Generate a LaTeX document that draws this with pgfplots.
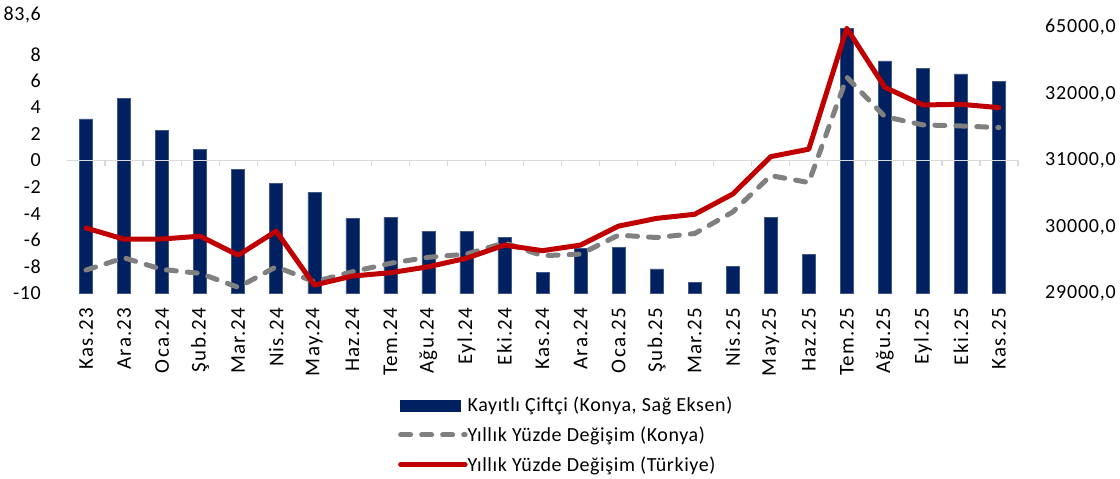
\documentclass[border=0pt]{standalone}
\usepackage{fontspec}
\setmainfont{Carlito}
\usepackage{pgfplots}
\pgfplotsset{compat=1.18}
\definecolor{barblue}{HTML}{002060}
\definecolor{redl}{HTML}{C00000}
\definecolor{grayl}{HTML}{808080}
\definecolor{gridc}{HTML}{D9D9D9}
\pgfplotsset{linelegend/.style={legend image code/.code={\draw[##1] (2.5pt,0pt) -- (67pt,0pt);}}}
\begin{document}
\begin{tikzpicture}[font=\fontsize{20}{24}\selectfont]
\begin{axis}[name=bars, at={(0,0)}, anchor=south west, scale only axis,
  width=951pt, height=278.9pt,
  xmin=-0.5, xmax=24.5, ymin=29000, ymax=33194,
  axis y line*=right, axis x line*=bottom, axis line style={draw=none},
  ybar, bar width=13pt,
  scaled y ticks=false,
  xtick={0,...,24},
  xticklabels={Kas.23,Ara.23,Oca.24,Şub.24,Mar.24,Nis.24,May.24,Haz.24,Tem.24,Ağu.24,Eyl.24,Eki.24,Kas.24,Ara.24,Oca.25,Şub.25,Mar.25,Nis.25,May.25,Haz.25,Tem.25,Ağu.25,Eyl.25,Eki.25,Kas.25},
  xticklabel style={rotate=90, anchor=east, inner sep=0pt, font=\fontsize{21}{25}\selectfont\addfontfeatures{LetterSpace=6}},
  xticklabel shift=14pt,
  major tick length=0pt,
  ytick={29000,30000,31000,32000,33004},
  yticklabels={{29000,0},{30000,0},{31000,0},{32000,0},{65000,0}},
  yticklabel style={inner sep=0pt, anchor=west, font=\fontsize{20}{24}\selectfont\addfontfeatures{LetterSpace=4}},
  yticklabel shift=27pt,
  /pgf/number format/assume math mode=true,
]
\addplot[fill=barblue, draw=barblue!75, line width=0.5pt, bar shift=0pt] coordinates {
(0,31624) (1,31926) (2,31448) (3,31167) (4,30865) (5,30648) (6,30518) (7,30126)
(8,30146) (9,29935) (10,29935) (11,29844) (12,29317) (13,29680) (14,29689)
(15,29366) (16,29166) (17,29407) (18,30146) (19,29583) (20,32985) (21,32494)
(22,32383) (23,32298) (24,32192)};
\end{axis}
\begin{axis}[at={(0,0)}, anchor=south west, scale only axis,
  width=951pt, height=278.9pt,
  xmin=-0.5, xmax=24.5, ymin=-10, ymax=11,
  axis x line*=middle, axis y line*=left,
  y axis line style={draw=none},
  x axis line style={draw=gridc, line width=1.2pt},
  xtick={-0.5,0.5,...,24.5}, xticklabels={},
  x tick style={draw=gridc, line width=1.2pt},
  tick align=outside, major tick length=6pt,
  y tick style={draw=none},
  ytick={-10,-8,-6,-4,-2,0,2,4,6,8,10.95},
  yticklabels={-10,-8,-6,-4,-2,0,2,4,6,8,{83,6}},
  yticklabel style={inner sep=0pt, anchor=east, font=\fontsize{20}{24}\selectfont\addfontfeatures{LetterSpace=3}},
  yticklabel shift=20pt,
  /pgf/number format/assume math mode=true,
  legend cell align=left,
  legend style={at={(0.348,-0.372)}, anchor=north west, draw=none, fill=none,
    inner sep=0pt, row sep=13.5pt,
    font=\fontsize{20}{24}\selectfont\addfontfeatures{LetterSpace=3},
    nodes={inner sep=0pt, outer sep=0pt},
    /tikz/every even column/.append style={column sep=0pt}},
]
\addlegendimage{legend image code/.code={\fill[barblue] (2.5pt,-5.5pt) rectangle (62.5pt,5.5pt);}}
\addlegendentry{Kayıtlı Çiftçi (Konya, Sağ Eksen)}
\addplot[grayl, line width=5pt, line cap=round, line join=round, dash pattern=on 10pt off 11pt, linelegend] coordinates {
(0,-8.25) (1,-7.33) (2,-8.2) (3,-8.5) (4,-9.55) (5,-8.0) (6,-9.13) (7,-8.38)
(8,-7.74) (9,-7.29) (10,-7.05) (11,-6.2) (12,-7.17) (13,-7.05) (14,-5.62)
(15,-5.8) (16,-5.5) (17,-3.88) (18,-1.14) (19,-1.66) (20,6.27) (21,3.30)
(22,2.68) (23,2.60) (24,2.48)};
\addlegendentry{Yıllık Yüzde Değişim (Konya)}
\addplot[redl, line width=5pt, line cap=round, line join=round, linelegend] coordinates {
(0,-5.08) (1,-5.93) (2,-5.91) (3,-5.7) (4,-7.13) (5,-5.32) (6,-9.38) (7,-8.7)
(8,-8.45) (9,-8.0) (10,-7.36) (11,-6.37) (12,-6.79) (13,-6.37) (14,-4.94)
(15,-4.36) (16,-4.05) (17,-2.53) (18,0.29) (19,0.85) (20,9.95) (21,5.51)
(22,4.18) (23,4.23) (24,3.98)};
\addlegendentry{Yıllık Yüzde Değişim (Türkiye)}
\end{axis}
\pgfresetboundingbox
\path (bars.south west) ++(-67pt,-185.7pt) rectangle ++(1120pt,479pt);
\end{tikzpicture}
\end{document}
